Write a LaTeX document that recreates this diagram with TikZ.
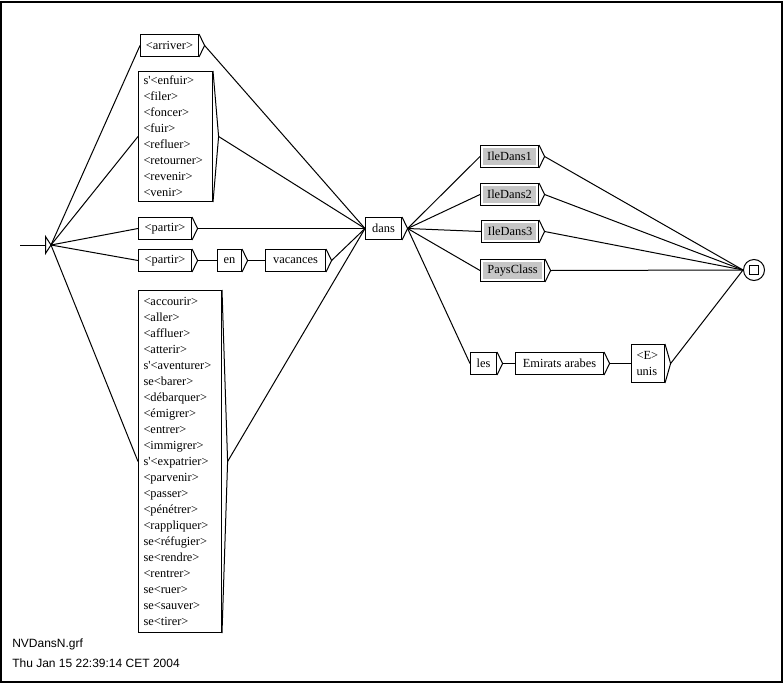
\documentclass[tikz,border=0pt]{standalone}
\usepackage{fontspec}
\newfontfamily\boxfont{Liberation Serif}[Ligatures=TeXOff]
\newfontfamily\footfont{Liberation Sans}
\usetikzlibrary{calc}
\definecolor{boxgrey}{RGB}{198,198,198}
\tikzset{
  box/.style={draw, line width=0.75pt, inner sep=0pt, minimum height=16.5pt, anchor=north west, font=\boxfont\fontsize{9.3}{12}\selectfont},
  listbox/.style={box, align=left, inner xsep=3.75pt, inner ysep=0pt},
  greybox/.style={box, path picture={\fill[boxgrey] ([shift={(2.2pt,-2.2pt)}]path picture bounding box.north west) rectangle ([shift={(-2.2pt,2.2pt)}]path picture bounding box.south east);}},
  conn/.style={line width=0.75pt},
  foot/.style={anchor=base west, inner sep=0pt, font=\footfont\fontsize{9}{11}\selectfont},
}
\newcommand\outmark[1]{\draw[conn] (#1.north east) -- ([xshift=4.2pt]#1.east) coordinate (#1-o) -- (#1.south east);}
\begin{document}
\begin{tikzpicture}[x=0.75pt,y=-0.75pt]
\useasboundingbox (0,0) rectangle (784,685);
\draw[line width=1.5pt] (1,2.3) rectangle (781.5,682);

% initial state
\coordinate (start) at (20,245);
\coordinate (init) at (51,245);
\draw[conn] (start) -- (45.5,245);
\draw[conn] (45.5,236.5) -- (init) -- (45.5,253.5) -- cycle;

% boxes
\node[box, minimum width=43.5pt] (arriver) at (140,34) {<arriver>};
\node[listbox, text width=48pt, minimum height=97.5pt] (enfuir) at (138,71)
  {s'<enfuir>\\<filer>\\<foncer>\\<fuir>\\<refluer>\\<retourner>\\<revenir>\\<venir>};
\node[box, minimum width=39.75pt] (partirA) at (138,217) {<partir>};
\node[box, minimum width=39.75pt] (partirB) at (138,249) {<partir>};
\node[box, minimum width=18pt] (en) at (217,249) {en};
\node[box, minimum width=45pt] (vacances) at (265,249) {vacances};
\node[listbox, text width=54.75pt, minimum height=256.5pt] (biglist) at (138,290)
  {<accourir>\\<aller>\\<affluer>\\<atterir>\\s'<aventurer>\\se<barer>\\<débarquer>\\<émigrer>\\<entrer>\\<immigrer>\\s'<expatrier>\\<parvenir>\\<passer>\\<pénétrer>\\<rappliquer>\\se<réfugier>\\se<rendre>\\<rentrer>\\se<ruer>\\se<sauver>\\se<tirer>};
\node[box, minimum width=27pt] (dans) at (365,217) {dans};
\node[greybox, minimum width=43.5pt] (ile1) at (480,145) {IleDans1};
\node[greybox, minimum width=43.5pt] (ile2) at (480,183) {IleDans2};
\node[greybox, minimum width=42.75pt] (ile3) at (481,220) {IleDans3};
\node[greybox, minimum width=48pt] (pays) at (480,259) {PaysClass};
\node[box, minimum width=19.5pt] (les) at (470,352) {les};
\node[box, minimum width=66pt] (emirats) at (515,352) {Emirats arabes};
\node[listbox, text width=17.25pt, minimum height=28.5pt] (eunis) at (631,344) {<E>\\unis};

% final state
\node[circle, draw, line width=0.75pt, minimum size=15.75pt, inner sep=0pt] (final) at (754,270) {};
\node[draw, line width=0.75pt, minimum size=6.75pt, inner sep=0pt] (finalsq) at (final.center) {};

% output markers
\foreach \n in {arriver,enfuir,partirA,partirB,en,vacances,biglist,dans,ile1,ile2,ile3,pays,les,emirats,eunis}{\outmark{\n}}

% connectors
\draw[conn] (init) -- (arriver.west);
\draw[conn] (init) -- (enfuir.west);
\draw[conn] (init) -- (partirA.west);
\draw[conn] (init) -- (partirB.west);
\draw[conn] (init) -- (biglist.west);
\draw[conn] (arriver-o) -- (dans.west);
\draw[conn] (enfuir-o) -- (dans.west);
\draw[conn] (partirA-o) -- (dans.west);
\draw[conn] (partirB-o) -- (en.west);
\draw[conn] (en-o) -- (vacances.west);
\draw[conn] (vacances-o) -- (dans.west);
\draw[conn] (biglist-o) -- (dans.west);
\draw[conn] (dans-o) -- (ile1.west);
\draw[conn] (dans-o) -- (ile2.west);
\draw[conn] (dans-o) -- (ile3.west);
\draw[conn] (dans-o) -- (pays.west);
\draw[conn] (dans-o) -- (les.west);
\draw[conn] (les-o) -- (emirats.west);
\draw[conn] (emirats-o) -- (eunis.west);
\draw[conn] (ile1-o) -- (final.west);
\draw[conn] (ile2-o) -- (final.west);
\draw[conn] (ile3-o) -- (final.west);
\draw[conn] (pays-o) -- (final.west);
\draw[conn] (eunis-o) -- (final.west);

% footer
\node[foot] (fname) at (12,647.5) {NVDansN.grf};
\node[foot] (fdate) at (12,667) {Thu Jan 15 22:39:14 CET 2004};
\end{tikzpicture}
\end{document}
